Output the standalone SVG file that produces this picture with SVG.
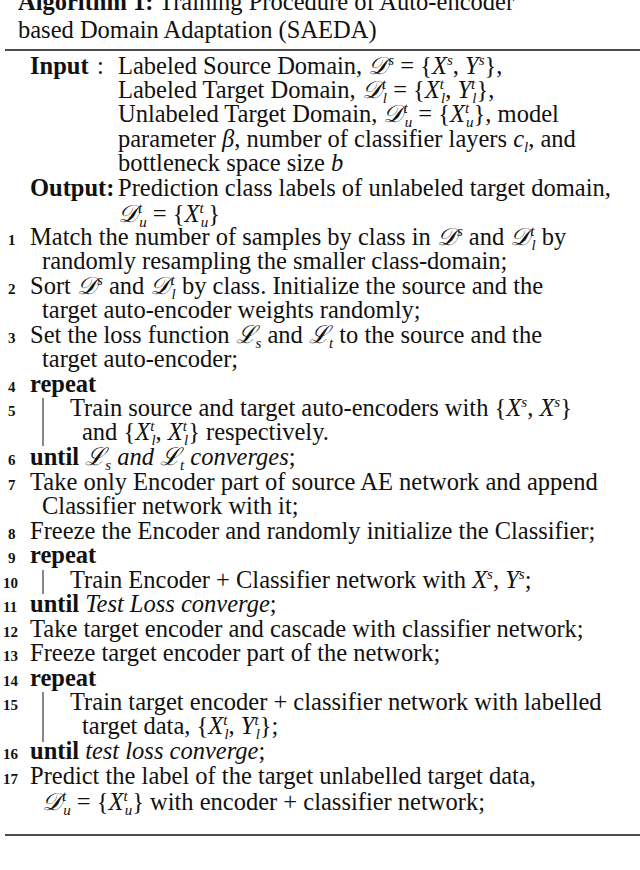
<svg xmlns="http://www.w3.org/2000/svg" width="640" height="870" viewBox="0 0 640 870">
<style>
text{font-family:"Liberation Serif","Times New Roman",serif;font-size:24.5px;fill:#111}
.b{font-weight:bold}
.i{font-style:italic}
.n{font-size:15px;font-weight:bold}
.s{font-size:15px;font-style:italic}
line{stroke:#111}
</style>
<rect width="640" height="870" fill="#fff"/>
<text x="18" y="10"><tspan class="b">Algorithm 1:</tspan> Training Procedure of Auto-encoder</text>
<text x="18" y="38">based Domain Adaptation (SAEDA)</text>
<line x1="5" y1="50" x2="640" y2="50" stroke-width="1.6"/>
<text x="30" y="74" class="b">Input</text><text x="97" y="74">:</text>
<text x="118" y="74">Labeled Source Domain, <tspan class="i">𝒟</tspan><tspan class="s" dy="-9">s</tspan><tspan dy="9"> = {</tspan><tspan class="i">X</tspan><tspan class="s" dy="-9">s</tspan><tspan dy="9">, </tspan><tspan class="i">Y</tspan><tspan class="s" dy="-9">s</tspan><tspan dy="9">},</tspan></text>
<text x="118" y="98">Labeled Target Domain, <tspan class="i">𝒟</tspan><tspan class="s" dy="-9">t</tspan><tspan class="s" dx="-3" dy="14">l</tspan><tspan dy="-5"> = {</tspan><tspan class="i">X</tspan><tspan class="s" dy="-9">t</tspan><tspan class="s" dx="-3" dy="14">l</tspan><tspan dy="-5">, </tspan><tspan class="i">Y</tspan><tspan class="s" dy="-9">t</tspan><tspan class="s" dx="-3" dy="14">l</tspan><tspan dy="-5">},</tspan></text>
<text x="118" y="122">Unlabeled Target Domain, <tspan class="i">𝒟</tspan><tspan class="s" dy="-9">t</tspan><tspan class="s" dx="-3" dy="14">u</tspan><tspan dy="-5"> = {</tspan><tspan class="i">X</tspan><tspan class="s" dy="-9">t</tspan><tspan class="s" dx="-3" dy="14">u</tspan><tspan dy="-5">}, model</tspan></text>
<text x="118" y="147">parameter <tspan class="i">β</tspan>, number of classifier layers <tspan class="i">c</tspan><tspan class="s" dy="5">l</tspan><tspan dy="-5">, and</tspan></text>
<text x="118" y="171">bottleneck space size <tspan class="i">b</tspan></text>
<text x="30" y="196" class="b">Output:</text>
<text x="118" y="196">Prediction class labels of unlabeled target domain,</text>
<text x="118" y="222"><tspan class="i">𝒟</tspan><tspan class="s" dy="-9">t</tspan><tspan class="s" dx="-3" dy="14">u</tspan><tspan dy="-5"> = {</tspan><tspan class="i">X</tspan><tspan class="s" dy="-9">t</tspan><tspan class="s" dx="-3" dy="14">u</tspan><tspan dy="-5">}</tspan></text>
<text x="8" y="245" class="n">1</text>
<text x="30" y="245">Match the number of samples by class in <tspan class="i">𝒟</tspan><tspan class="s" dy="-9">s</tspan><tspan dy="9"> and </tspan><tspan class="i">𝒟</tspan><tspan class="s" dy="-9">t</tspan><tspan class="s" dx="-3" dy="14">l</tspan><tspan dy="-5"> by</tspan></text>
<text x="42" y="269">randomly resampling the smaller class-domain;</text>
<text x="8" y="294" class="n">2</text>
<text x="30" y="294">Sort <tspan class="i">𝒟</tspan><tspan class="s" dy="-9">s</tspan><tspan dy="9"> and </tspan><tspan class="i">𝒟</tspan><tspan class="s" dy="-9">t</tspan><tspan class="s" dx="-3" dy="14">l</tspan><tspan dy="-5"> by class. Initialize the source and the</tspan></text>
<text x="42" y="318">target auto-encoder weights randomly;</text>
<text x="8" y="343" class="n">3</text>
<text x="30" y="343">Set the loss function <tspan class="i">ℒ</tspan><tspan class="s" dy="5">s</tspan><tspan dy="-5"> and </tspan><tspan class="i">ℒ</tspan><tspan class="s" dy="5">t</tspan><tspan dy="-5"> to the source and the</tspan></text>
<text x="42" y="367">target auto-encoder;</text>
<text x="8" y="392" class="n">4</text><text x="30" y="392" class="b">repeat</text>
<text x="8" y="416" class="n">5</text>
<line x1="43" y1="398" x2="43" y2="446" stroke-width="1"/>
<text x="70" y="416">Train source and target auto-encoders with {<tspan class="i">X</tspan><tspan class="s" dy="-9">s</tspan><tspan dy="9">, </tspan><tspan class="i">X</tspan><tspan class="s" dy="-9">s</tspan><tspan dy="9">}</tspan></text>
<text x="82" y="440">and {<tspan class="i">X</tspan><tspan class="s" dy="-9">t</tspan><tspan class="s" dx="-3" dy="14">l</tspan><tspan dy="-5">, </tspan><tspan class="i">X</tspan><tspan class="s" dy="-9">t</tspan><tspan class="s" dx="-3" dy="14">l</tspan><tspan dy="-5">} respectively.</tspan></text>
<text x="8" y="465" class="n">6</text>
<text x="30" y="465"><tspan class="b">until</tspan> <tspan class="i">ℒ</tspan><tspan class="s" dy="5">s</tspan><tspan class="i" dy="-5"> and </tspan><tspan class="i">ℒ</tspan><tspan class="s" dy="5">t</tspan><tspan class="i" dy="-5"> converges</tspan>;</text>
<text x="8" y="490" class="n">7</text>
<text x="30" y="490">Take only Encoder part of source AE network and append</text>
<text x="42" y="514">Classifier network with it;</text>
<text x="8" y="539" class="n">8</text>
<text x="30" y="539">Freeze the Encoder and randomly initialize the Classifier;</text>
<text x="8" y="563" class="n">9</text><text x="30" y="563" class="b">repeat</text>
<text x="3" y="588" class="n">10</text>
<line x1="43" y1="570" x2="43" y2="594" stroke-width="1"/>
<text x="70" y="588">Train Encoder + Classifier network with <tspan class="i">X</tspan><tspan class="s" dy="-9">s</tspan><tspan dy="9">, </tspan><tspan class="i">Y</tspan><tspan class="s" dy="-9">s</tspan><tspan dy="9">;</tspan></text>
<text x="3" y="612" class="n">11</text>
<text x="30" y="612"><tspan class="b">until</tspan> <tspan class="i">Test Loss converge</tspan>;</text>
<text x="3" y="637" class="n">12</text>
<text x="30" y="637">Take target encoder and cascade with classifier network;</text>
<text x="3" y="661" class="n">13</text>
<text x="30" y="661">Freeze target encoder part of the network;</text>
<text x="3" y="686" class="n">14</text><text x="30" y="686" class="b">repeat</text>
<text x="3" y="710" class="n">15</text>
<line x1="43" y1="692" x2="43" y2="742" stroke-width="1"/>
<text x="70" y="710">Train target encoder + classifier network with labelled</text>
<text x="82" y="734">target data, {<tspan class="i">X</tspan><tspan class="s" dy="-9">t</tspan><tspan class="s" dx="-3" dy="14">l</tspan><tspan dy="-5">, </tspan><tspan class="i">Y</tspan><tspan class="s" dy="-9">t</tspan><tspan class="s" dx="-3" dy="14">l</tspan><tspan dy="-5">};</tspan></text>
<text x="3" y="759" class="n">16</text>
<text x="30" y="759"><tspan class="b">until</tspan> <tspan class="i">test loss converge</tspan>;</text>
<text x="3" y="784" class="n">17</text>
<text x="30" y="784">Predict the label of the target unlabelled target data,</text>
<text x="42" y="810"><tspan class="i">𝒟</tspan><tspan class="s" dy="-9">t</tspan><tspan class="s" dx="-3" dy="14">u</tspan><tspan dy="-5"> = {</tspan><tspan class="i">X</tspan><tspan class="s" dy="-9">t</tspan><tspan class="s" dx="-3" dy="14">u</tspan><tspan dy="-5">} with encoder + classifier network;</tspan></text>
<line x1="5" y1="835" x2="640" y2="835" stroke-width="1.6"/>
</svg>
